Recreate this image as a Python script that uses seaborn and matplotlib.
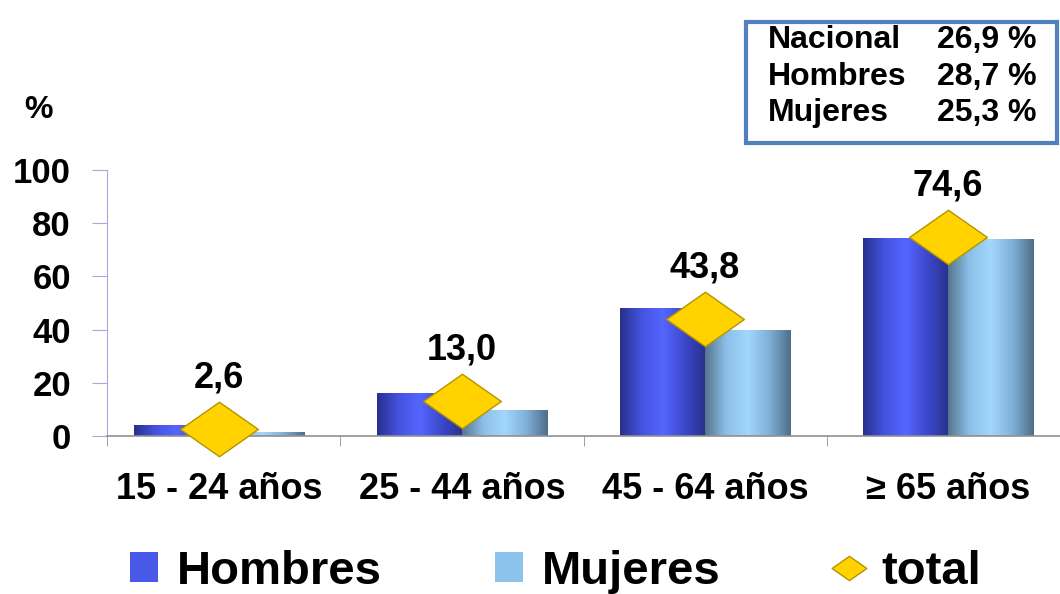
import numpy as np
import pandas as pd
import matplotlib
matplotlib.use("Agg")
import matplotlib.pyplot as plt
import seaborn as sns
from matplotlib.path import Path
from matplotlib.patches import Patch, Rectangle
from matplotlib.lines import Line2D
from matplotlib.colors import LinearSegmentedColormap, to_hex

# datos
grupos = ["15 - 24 años", "25 - 44 años", "45 - 64 años", "≥ 65 años"]
hombres = [4.1, 16.2, 48.0, 74.4]
mujeres = [1.5, 9.8, 39.8, 74.0]
total = [2.6, 13.0, 43.8, 74.6]
total_labels = ["2,6", "13,0", "43,8", "74,6"]
resumen_nombres = ["Nacional", "Hombres", "Mujeres"]
resumen_valores = ["26,9 %", "28,7 %", "25,3 %"]

df = pd.DataFrame({
    "grupo": grupos * 2,
    "sexo": ["Hombres"] * len(grupos) + ["Mujeres"] * len(grupos),
    "valor": hombres + mujeres,
})

sns.set_style("white")
plt.rcParams["font.family"] = ["Liberation Sans", "DejaVu Sans"]
plt.rcParams["font.weight"] = "bold"
plt.rcParams["text.color"] = "black"

col_h = "#4a58e8"
col_m = "#8cc4ee"
amarillo = "#ffd200"

fig = plt.figure(figsize=(10.6, 5.94), dpi=100)
ax = fig.add_axes([0.101, 0.266, 0.899, 0.448])

sns.barplot(data=df, x="grupo", y="valor", hue="sexo",
            palette={"Hombres": col_h, "Mujeres": col_m},
            width=0.7, saturation=1, legend=False, ax=ax, zorder=2)

# degradado tipo cilindro en cada barra
cm_h = LinearSegmentedColormap.from_list("h", ["#26318a", "#4553e0", "#5566ff", "#3c48cc", "#28318c"])
cm_m = LinearSegmentedColormap.from_list("m", ["#56758f", "#8cc0e8", "#a2d6fd", "#80b0d8", "#4f6d88"])
grad = np.linspace(0, 1, 256).reshape(1, -1)
for p in list(ax.patches):
    cmap = cm_h if to_hex(p.get_facecolor()) == col_h else cm_m
    x, y, w, h = p.get_x(), p.get_y(), p.get_width(), p.get_height()
    im = ax.imshow(grad, extent=[x, x + w, y, y + h], cmap=cmap,
                   aspect="auto", zorder=2, interpolation="bilinear")
    im.set_clip_path(p)
    p.set_facecolor("none")
    p.set_edgecolor("none")

# rombos del total
diamante = Path([(-1, 0), (0, 0.7), (1, 0), (0, -0.7), (-1, 0)],
                [Path.MOVETO, Path.LINETO, Path.LINETO, Path.LINETO, Path.CLOSEPOLY])
xpos = np.arange(len(grupos))
ax.plot(xpos, total, linestyle="none", marker=diamante, markersize=56,
        markerfacecolor=amarillo, markeredgecolor="#b39500", markeredgewidth=1,
        zorder=5, clip_on=False)
for xi, v, lbl in zip(xpos, total, total_labels):
    ax.annotate(lbl, (xi, v), xytext=(0, 37), textcoords="offset points",
                ha="center", va="center", fontsize=26, fontweight="bold")

xleft = -0.46
ax.set_xlim(xleft, 3.46)
ax.set_ylim(0, 100)
ax.set_yticks([0, 20, 40, 60, 80, 100])
ax.set_xlabel("")
ax.set_ylabel("")
ax.tick_params(axis="y", labelsize=25, length=11, color="#a8a8e0", labelcolor="black",
               pad=15, left=True)
ax.tick_params(axis="x", labelsize=26, length=0, pad=26, labelcolor="black")
ax.set_xticks([xleft, 0.5, 1.5, 2.5], minor=True)
ax.tick_params(axis="x", which="minor", length=7, color="#909090", bottom=True)
for lab in ax.get_xticklabels() + ax.get_yticklabels():
    lab.set_fontweight("bold")
sns.despine(ax=ax)
ax.spines["left"].set_color("#a8a8e0")
ax.spines["bottom"].set_color("#909090")
ax.spines["bottom"].set_linewidth(1.2)

fig.text(0.036, 0.815, "%", fontsize=23, fontweight="bold", ha="center", va="center")

# recuadro con los totales
fig.patches.append(Rectangle((0.704, 0.759), 0.293, 0.204, transform=fig.transFigure,
                             facecolor="white", edgecolor="#4f81bd", linewidth=3))
for i, (n, v) in enumerate(zip(resumen_nombres, resumen_valores)):
    yy = 0.932 - i * 0.061
    fig.text(0.724, yy, n, fontsize=23, fontweight="bold", ha="left", va="center")
    fig.text(0.978, yy, v, fontsize=23, fontweight="bold", ha="right", va="center")

handles = [
    Patch(facecolor=col_h, edgecolor="none", label="Hombres"),
    Patch(facecolor=col_m, edgecolor="none", label="Mujeres"),
    Line2D([], [], linestyle="none", marker=diamante, markersize=25,
           markerfacecolor=amarillo, markeredgecolor="#b39500", label="total"),
]
fig.legend(handles=handles, loc="center", bbox_to_anchor=(0.524, 0.037), ncol=3,
           frameon=False, prop={"size": 34, "weight": "bold"},
           handlelength=0.6, handleheight=0.6, handletextpad=0.4, columnspacing=2.4)

fig.savefig("out.png", dpi=100)
